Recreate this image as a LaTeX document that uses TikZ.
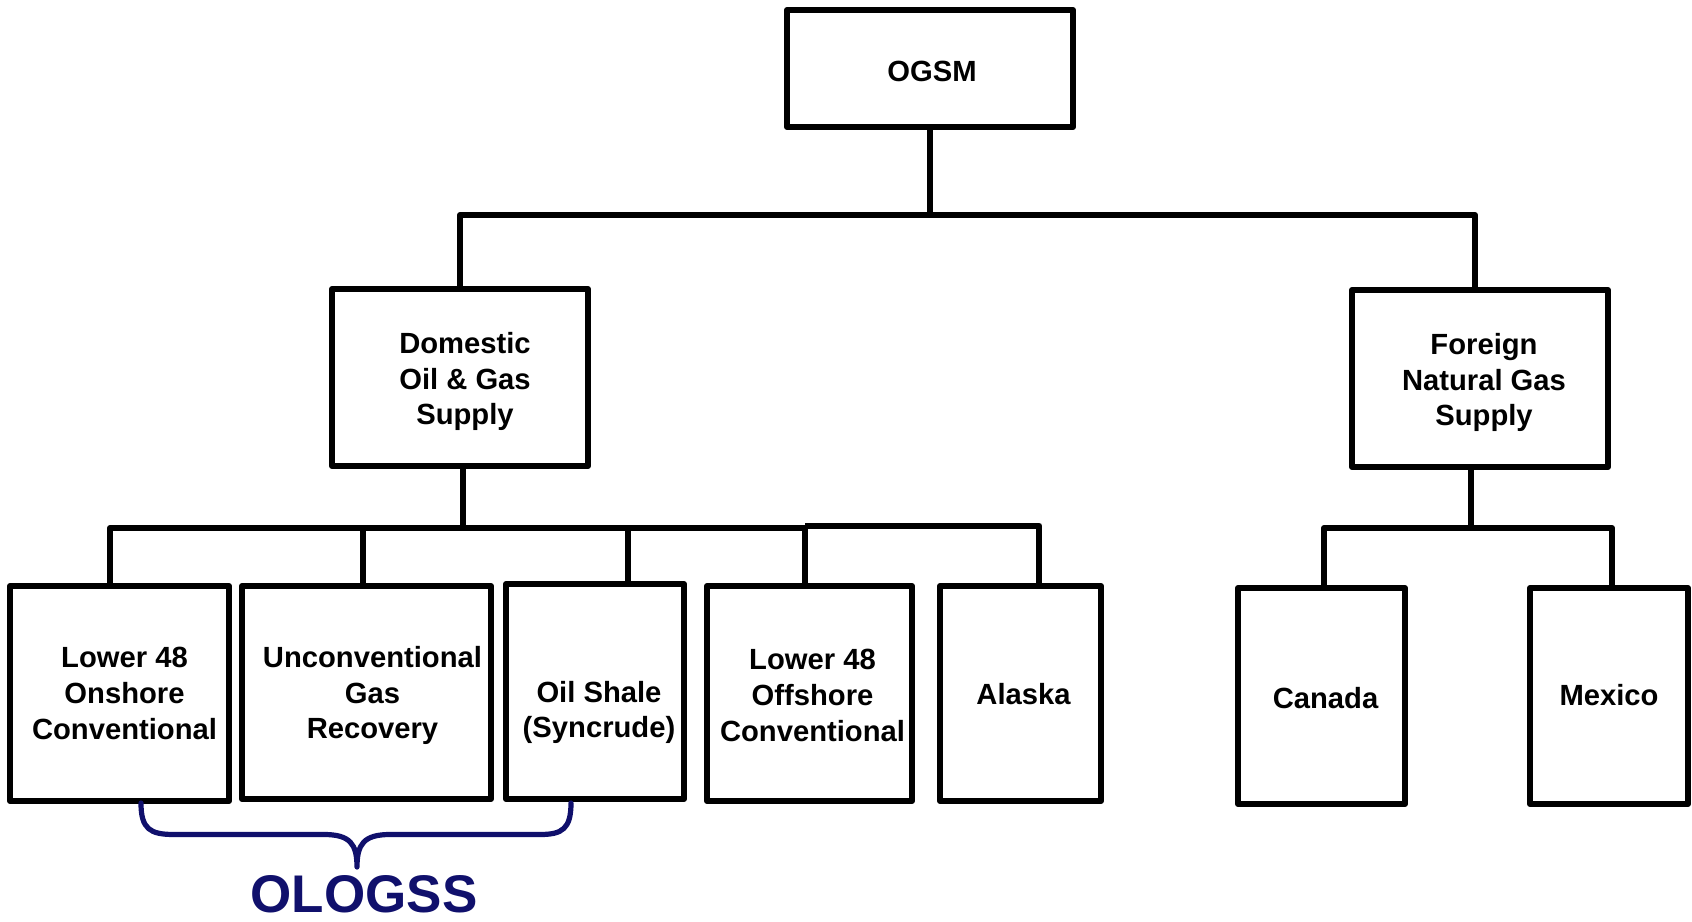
\documentclass[tikz,border=0pt]{standalone}
\usepackage{fontspec}
\usetikzlibrary{calc}
\setmainfont{Liberation Sans}
\definecolor{bracenavy}{RGB}{16,16,108}
\begin{document}
\begin{tikzpicture}[x=0.5pt,y=-0.5pt,
  box/.style={draw=black,line width=3pt,rectangle,inner sep=0pt,line join=round},
  lbl/.style={inner sep=0pt,align=center,font=\fontsize{14.6}{17.8}\selectfont\bfseries},
  link/.style={draw=black,line width=3pt,line join=round},
  bracepath/.style={draw=bracenavy,line width=2.6pt,line cap=round,line join=round}]
\useasboundingbox (0,0) rectangle (1692,921);

% top level
\node[box,minimum width=143pt,minimum height=58.5pt] (ogsm) at (930,68.5) {};
% second level
\node[box,minimum width=128pt,minimum height=88.5pt] (dom) at (460,377.5) {};
\node[box,minimum width=128pt,minimum height=88.5pt] (for) at (1480,378.5) {};
% domestic supply modules
\node[box,minimum width=109.5pt,minimum height=107.5pt] (b1) at (119.5,693.5) {};
\node[box,minimum width=124.5pt,minimum height=106.5pt] (b2) at (366.5,692.5) {};
\node[box,minimum width=89pt,minimum height=107.5pt] (b3) at (595,691.5) {};
\node[box,minimum width=102.5pt,minimum height=107.5pt] (b4) at (809.5,693.5) {};
\node[box,minimum width=80.5pt,minimum height=107.5pt] (b5) at (1020.5,693.5) {};
% foreign supply modules
\node[box,minimum width=83.5pt,minimum height=108pt] (can) at (1321.5,696) {};
\node[box,minimum width=79pt,minimum height=108pt] (mex) at (1609,696) {};

% box captions
\node[lbl] (ogsmt) at ($(ogsm)+(2,3)$) {OGSM};
\node[lbl] (domt) at ($(dom)+(5,4)$) {Domestic\\Oil \& Gas\\Supply};
\node[lbl] (fort) at ($(for)+(4,4)$) {Foreign\\Natural Gas\\Supply};
\node[lbl] (b1t) at ($(b1)+(5,0)$) {Lower 48\\Onshore\\Conventional};
\node[lbl] (b2t) at ($(b2)+(6,3)$) {Unconventional\\Gas\\Recovery};
\node[lbl] (b3t) at ($(b3)+(4,21)$) {Oil Shale\\(Syncrude)};
\node[lbl] (b4t) at ($(b4)+(3,2)$) {Lower 48\\Offshore\\Conventional};
\node[lbl] (b5t) at ($(b5)+(3,1)$) {Alaska};
\node[lbl] (cant) at ($(can)+(4,2)$) {Canada};
\node[lbl] (mext) at ($(mex)+(0,-1)$) {Mexico};

% bus points
\coordinate (tb) at (930,215);
\coordinate (tl) at (460,215);
\coordinate (tr) at (1475,215);
\coordinate (db) at (463,528);
\coordinate (t1) at (110,528);
\coordinate (t2) at (363,528);
\coordinate (t3) at (628,528);
\coordinate (t4) at (805,528);
\coordinate (t4u) at (805,526);
\coordinate (t5) at (1039,526);
\coordinate (fb) at (1471,528);
\coordinate (c1) at (1324,528);
\coordinate (c2) at (1612,528);

% connectors
\draw[link] (ogsm.south) -- (tb);
\draw[link] (tl |- dom.north) -- (tl) -- (tr) -- (tr |- for.north);
\draw[link] (db |- dom.south) -- (db);
\draw[link] (t1 |- b1.north) -- (t1) -- (t4);
\draw[link,line width=3.4pt] (t4u) -- (t5) -- (t5 |- b5.north);
\draw[link] (t2) -- (t2 |- b2.north);
\draw[link] (t3) -- (t3 |- b3.north);
\draw[link] (t4) -- (t4 |- b4.north);
\draw[link] (fb |- for.south) -- (fb);
\draw[link] (c1 |- can.north) -- (c1) -- (c2) -- (c2 |- mex.north);

% brace grouping the OLOGSS modules
\coordinate (brL) at (141,803);
\coordinate (brR) at (571,803);
\coordinate (brT) at (357,867);
\draw[bracepath] (brL) .. controls (141,829) and (150,834.5) .. (174,834.5) -- (324,834.5)
  .. controls (350,834.5) and (357,844) .. (brT)
  .. controls (357,844) and (364,834.5) .. (390,834.5) -- (540,834.5)
  .. controls (562,834.5) and (571,829) .. (brR);
\node[inner sep=0pt,text=bracenavy,font=\fontsize{26.5}{30}\selectfont\bfseries] (ologss) at (364,894) {OLOGSS};
\end{tikzpicture}
\end{document}
